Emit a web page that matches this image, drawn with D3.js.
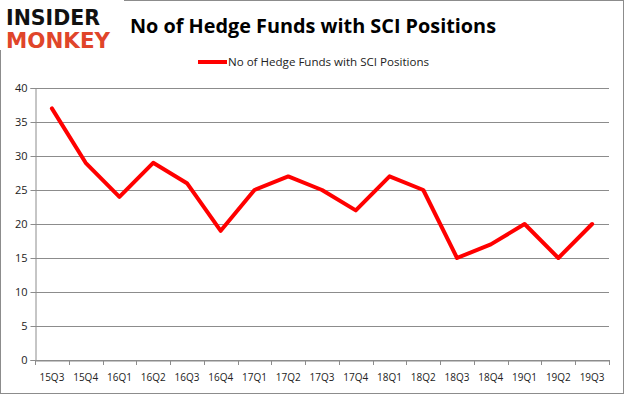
<!DOCTYPE html>
<html>
<head>
<meta charset="utf-8">
<script src="https://cdn.jsdelivr.net/npm/d3@7"></script>
<style>
  body { margin: 0; background: #fff; }
  svg { display: block; }
</style>
</head>
<body>
<div id="chart"></div>
<script>
// Chart data
const quarters = ["15Q3", "15Q4", "16Q1", "16Q2", "16Q3", "16Q4", "17Q1", "17Q2", "17Q3",
    "17Q4", "18Q1", "18Q2", "18Q3", "18Q4", "19Q1", "19Q2", "19Q3"];
const hedgeFunds = [37, 29, 24, 29, 26, 19, 25, 27, 25, 22, 27, 25, 15, 17, 20, 15, 20];
const yTicks = [0, 5, 10, 15, 20, 25, 30, 35, 40];
const seriesName = "No of Hedge Funds with SCI Positions";

const W = 625, H = 395;
const margin = { top: 88, right: 16, bottom: 35, left: 35 },
    width = W - margin.left - margin.right,
    height = H - margin.top - margin.bottom;

const root = d3.select("#chart").append("svg")
    .attr("width", W)
    .attr("height", H);

// Outer frame
root.append("rect")
    .attr("x", 0.5).attr("y", 0.5)
    .attr("width", W - 2).attr("height", H - 2)
    .attr("fill", "#fff")
    .attr("stroke", "#8c8c8c");

// Logo (covers the frame corner)
const logo = root.append("g");
logo.append("rect").attr("x", 0).attr("y", 0).attr("width", 124).attr("height", 50).attr("fill", "#fff");
logo.append("text")
    .attr("x", 6).attr("y", 25)
    .attr("textLength", 94).attr("lengthAdjust", "spacingAndGlyphs")
    .style("font-family", "DejaVu Sans")
    .style("font-weight", "bold")
    .style("font-size", "22px")
    .attr("fill", "#111")
    .text("INSIDER");
logo.append("text")
    .attr("x", 6).attr("y", 48)
    .attr("textLength", 104).attr("lengthAdjust", "spacingAndGlyphs")
    .style("font-family", "DejaVu Sans")
    .style("font-weight", "bold")
    .style("font-size", "22px")
    .attr("fill", "#e0452a")
    .text("MONKEY");

// Title
root.append("text")
    .attr("x", 313).attr("y", 33)
    .attr("text-anchor", "middle")
    .attr("textLength", 366).attr("lengthAdjust", "spacingAndGlyphs")
    .style("font-family", "Open Sans")
    .style("font-weight", "bold")
    .style("font-size", "20px")
    .attr("fill", "#000")
    .text(seriesName);

// Legend
root.append("line")
    .attr("x1", 198).attr("x2", 227)
    .attr("y1", 62).attr("y2", 62)
    .attr("stroke", "#ff0000")
    .attr("stroke-width", 4);
root.append("text")
    .attr("x", 228).attr("y", 66)
    .attr("textLength", 201).attr("lengthAdjust", "spacingAndGlyphs")
    .style("font-family", "Open Sans")
    .style("font-size", "11.5px")
    .attr("fill", "#222")
    .text(seriesName);

const svg = root.append("g")
    .attr("transform", "translate(" + margin.left + "," + margin.top + ")");

// Scales
const x = d3.scaleBand()
    .domain(quarters)
    .range([0, width]);

const y = d3.scaleLinear()
    .domain([0, 40])
    .range([height, 0]);

// Gridlines
svg.append("g")
    .selectAll("line")
    .data(yTicks)
    .join("line")
    .attr("x1", 0).attr("x2", width)
    .attr("y1", d => Math.round(y(d)) + 0.5)
    .attr("y2", d => Math.round(y(d)) + 0.5)
    .attr("stroke", "#8c8c8c");

// Y axis
const yAxis = svg.append("g")
    .attr("transform", "translate(0.5,0)")
    .call(d3.axisLeft(y).tickValues(yTicks).tickSize(5).tickPadding(3));
yAxis.select(".domain").attr("stroke", "#8c8c8c");
yAxis.selectAll(".tick line").attr("stroke", "#8c8c8c");
yAxis.selectAll("text")
    .style("font-family", "Open Sans")
    .style("font-size", "11px")
    .attr("fill", "#222");

// X axis
const xAxis = svg.append("g")
    .attr("transform", "translate(0," + (Math.round(height) + 0.5) + ")")
    .call(d3.axisBottom(x).tickSize(0).tickPadding(13));
xAxis.select(".domain").attr("stroke", "#8c8c8c");
xAxis.selectAll("text")
    .style("font-family", "Open Sans")
    .style("font-size", "10px")
    .attr("fill", "#222");

// Tick marks at band edges
svg.append("g")
    .selectAll("line")
    .data(quarters.concat(["__end"]))
    .join("line")
    .attr("x1", (d, i) => Math.round(i * x.step()) + 0.5)
    .attr("x2", (d, i) => Math.round(i * x.step()) + 0.5)
    .attr("y1", height)
    .attr("y2", height + 5)
    .attr("stroke", "#8c8c8c");

// Line
svg.append("path")
    .datum(hedgeFunds)
    .attr("fill", "none")
    .attr("stroke", "#ff0000")
    .attr("stroke-width", 4)
    .attr("stroke-linejoin", "round")
    .attr("stroke-linecap", "round")
    .attr("d", d3.line()
        .x((d, i) => x(quarters[i]) + x.bandwidth() / 2)
        .y(d => y(d))
    );
</script>
</body>
</html>
